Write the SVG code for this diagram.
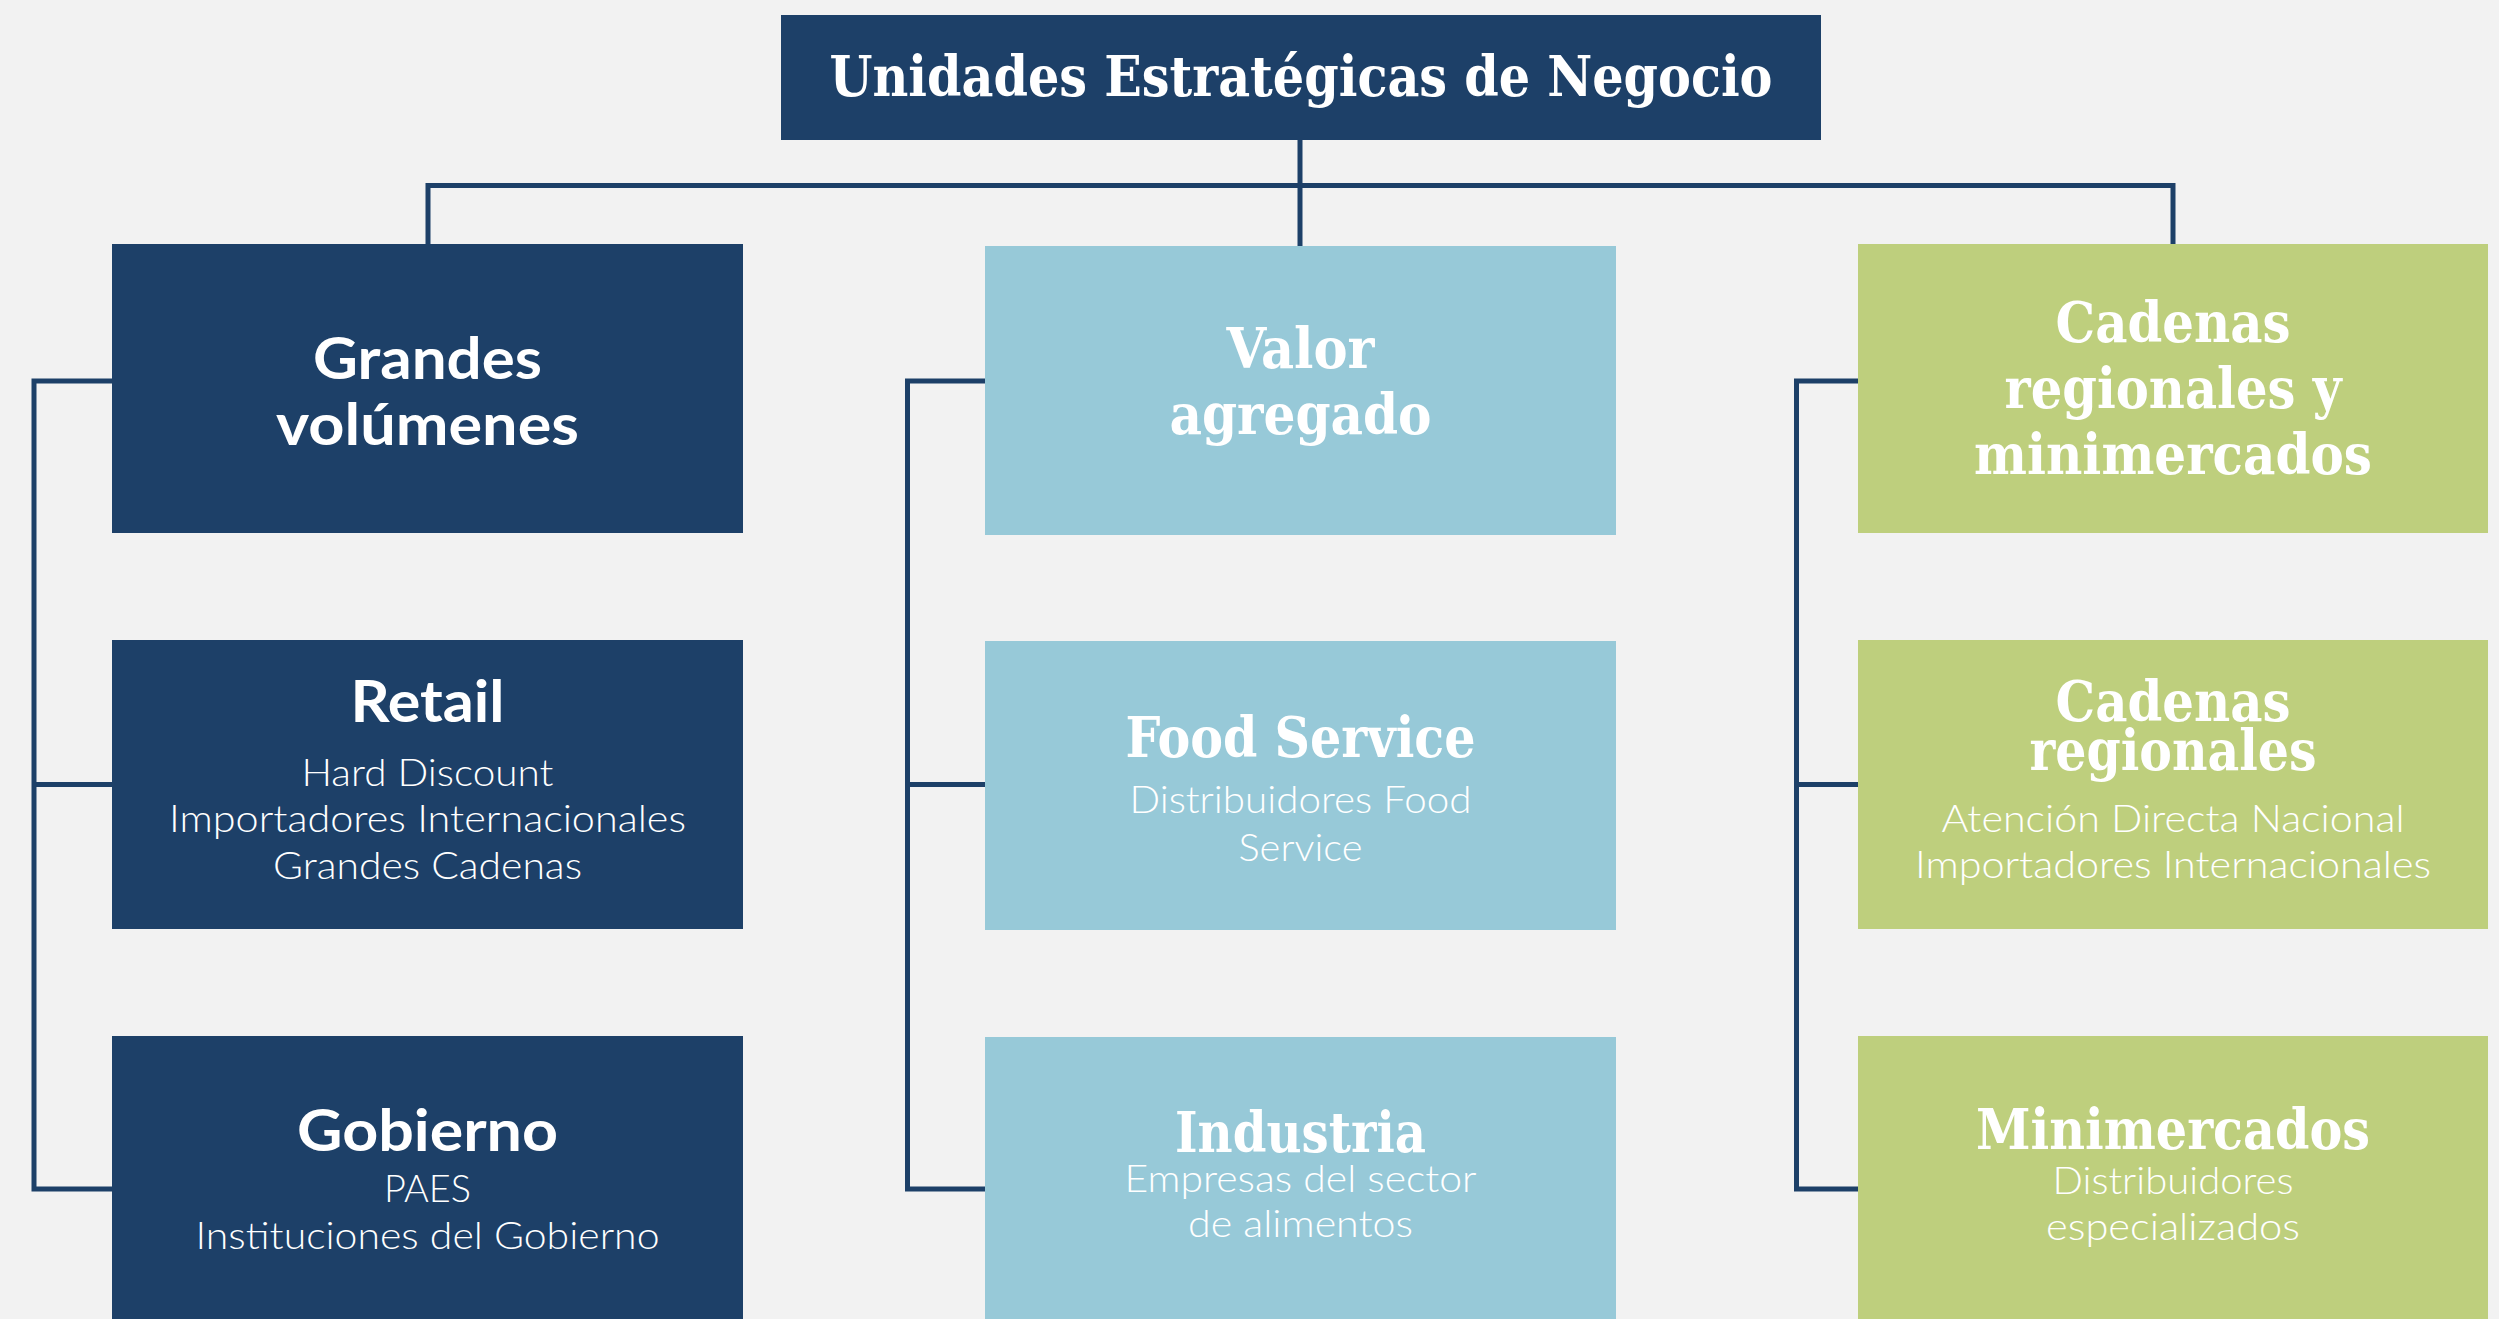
<svg xmlns="http://www.w3.org/2000/svg" width="2499" height="1319" viewBox="0 0 2499 1319">
<style>
.bg{fill:#F2F2F2}
.navy{fill:#1D4068}
.blue{fill:#97C9D8}
.green{fill:#BECF7D}
.conn{fill:none;stroke:#1D4068;stroke-width:5;stroke-linejoin:miter;stroke-linecap:butt}
text{fill:#FFFFFF;text-anchor:middle}
.slab{font-family:"DejaVu Serif Condensed","DejaVu Serif",serif;font-weight:bold;font-size:56px}
.sansb{font-family:Lato,"Noto Sans",sans-serif;font-weight:bold;font-size:57px}
.body{font-family:Lato,"Open Sans",sans-serif;font-weight:300;font-size:37px}
</style>
<rect class="bg" x="0" y="0" width="2499" height="1319"/>
<g id="connectors">
<path class="conn" d="M1300,140 V246"/>
<path class="conn" d="M428,244 V185.5 H2173 V244"/>
<path class="conn" d="M112,381 H34 V1189 H112 M34,784.5 H112"/>
<path class="conn" d="M985,381 H907.5 V1189 H985 M907.5,784.5 H985"/>
<path class="conn" d="M1858,381 H1796.5 V1189 H1858 M1796.5,784.5 H1858"/>
</g>
<g id="root">
<rect class="navy" x="781" y="15" width="1040" height="125"/>
<text class="slab" x="1301" y="96" textLength="943" lengthAdjust="spacingAndGlyphs">Unidades Estratégicas de Negocio</text>
</g>
<g id="grandes-volumenes">
<rect class="navy" x="112" y="244" width="631" height="289"/>
<text class="sansb" x="427.5" y="379" textLength="229" lengthAdjust="spacingAndGlyphs">Grandes</text>
<text class="sansb" x="427.5" y="445" textLength="303" lengthAdjust="spacingAndGlyphs">volúmenes</text>
</g>
<g id="retail">
<rect class="navy" x="112" y="640" width="631" height="289"/>
<text class="sansb" x="427.5" y="722" textLength="154" lengthAdjust="spacingAndGlyphs">Retail</text>
<text class="body" x="427.5" y="786" textLength="252" lengthAdjust="spacingAndGlyphs">Hard Discount</text>
<text class="body" x="427.5" y="832" textLength="517" lengthAdjust="spacingAndGlyphs">Importadores Internacionales</text>
<text class="body" x="427.5" y="879" textLength="309" lengthAdjust="spacingAndGlyphs">Grandes Cadenas</text>
</g>
<g id="gobierno">
<rect class="navy" x="112" y="1036" width="631" height="300"/>
<text class="sansb" x="427.5" y="1151" textLength="261" lengthAdjust="spacingAndGlyphs">Gobierno</text>
<text class="body" x="427.5" y="1202" textLength="87" lengthAdjust="spacingAndGlyphs">PAES</text>
<text class="body" x="427.5" y="1249" textLength="464" lengthAdjust="spacingAndGlyphs">Instituciones del Gobierno</text>
</g>
<g id="valor-agregado">
<rect class="blue" x="985" y="246" width="631" height="289"/>
<text class="slab" x="1300.5" y="368" textLength="148" lengthAdjust="spacingAndGlyphs">Valor</text>
<text class="slab" x="1300.5" y="434" textLength="262" lengthAdjust="spacingAndGlyphs">agregado</text>
</g>
<g id="food-service">
<rect class="blue" x="985" y="641" width="631" height="289"/>
<text class="slab" x="1300.5" y="757" textLength="350" lengthAdjust="spacingAndGlyphs">Food Service</text>
<text class="body" x="1300.5" y="813" textLength="342" lengthAdjust="spacingAndGlyphs">Distribuidores Food</text>
<text class="body" x="1300.5" y="861" textLength="124" lengthAdjust="spacingAndGlyphs">Service</text>
</g>
<g id="industria">
<rect class="blue" x="985" y="1037" width="631" height="300"/>
<text class="slab" x="1300.5" y="1152" textLength="251" lengthAdjust="spacingAndGlyphs">Industria</text>
<text class="body" x="1300.5" y="1192" textLength="352" lengthAdjust="spacingAndGlyphs">Empresas del sector</text>
<text class="body" x="1300.5" y="1237" textLength="225" lengthAdjust="spacingAndGlyphs">de alimentos</text>
</g>
<g id="cadenas-regionales-y-minimercados">
<rect class="green" x="1858" y="244" width="630" height="289"/>
<text class="slab" x="2173" y="342" textLength="235" lengthAdjust="spacingAndGlyphs">Cadenas</text>
<text class="slab" x="2173" y="408" textLength="337" lengthAdjust="spacingAndGlyphs">regionales y</text>
<text class="slab" x="2173" y="474" textLength="398" lengthAdjust="spacingAndGlyphs">minimercados</text>
</g>
<g id="cadenas-regionales">
<rect class="green" x="1858" y="640" width="630" height="289"/>
<text class="slab" x="2173" y="721" textLength="235" lengthAdjust="spacingAndGlyphs">Cadenas</text>
<text class="slab" x="2173" y="770" textLength="287" lengthAdjust="spacingAndGlyphs">regionales</text>
<text class="body" x="2173" y="832" textLength="463" lengthAdjust="spacingAndGlyphs">Atención Directa Nacional</text>
<text class="body" x="2173" y="878" textLength="516" lengthAdjust="spacingAndGlyphs">Importadores Internacionales</text>
</g>
<g id="minimercados">
<rect class="green" x="1858" y="1036" width="630" height="300"/>
<text class="slab" x="2173" y="1149" textLength="394" lengthAdjust="spacingAndGlyphs">Minimercados</text>
<text class="body" x="2173" y="1194" textLength="241" lengthAdjust="spacingAndGlyphs">Distribuidores</text>
<text class="body" x="2173" y="1240" textLength="254" lengthAdjust="spacingAndGlyphs">especializados</text>
</g>
</svg>
